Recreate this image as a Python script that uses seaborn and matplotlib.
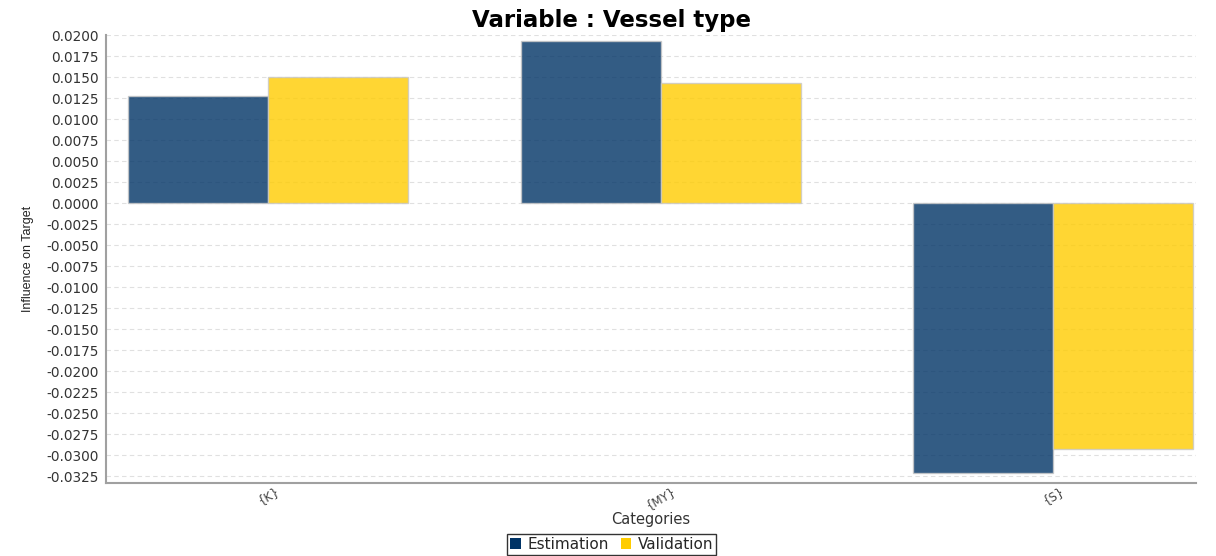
import pandas as pd
import matplotlib
matplotlib.use("Agg")
import matplotlib.pyplot as plt
import matplotlib.patches as mpatches
import seaborn as sns

sns.set_style("white")
plt.rcParams['font.family'] = ['DejaVu Sans']

categories = ['{K}', '{MY}', '{S}']
estimation = [0.0128, 0.0193, -0.0321]
validation = [0.0150, 0.0143, -0.0293]
series = ['Estimation', 'Validation']
colors = {'Estimation': '#003366', 'Validation': '#ffcc00'}
yticks = [0.02 - 0.0025 * i for i in range(22)]

df = pd.DataFrame({
    'Category': categories * 2,
    'Series': ['Estimation'] * 3 + ['Validation'] * 3,
    'Value': estimation + validation,
})

fig = plt.figure(figsize=(12.16, 5.56), dpi=100)
ax = fig.add_axes([0.0872, 0.1313, 0.8964, 0.8057])

sns.barplot(data=df, x='Category', y='Value', hue='Series', order=categories,
            hue_order=series, palette=colors, saturation=1, width=0.714, alpha=0.8,
            edgecolor='#c8c8c8', linewidth=1, legend=False, ax=ax)

ax.set_xlim(-0.413, 2.364)
ax.set_ylim(-0.0333, 0.02)
ax.set_yticks(yticks)
ax.set_yticklabels(['{:.4f}'.format(0.0 if abs(v) < 1e-9 else v) for v in yticks])
ax.yaxis.grid(True, linestyle=(0, (4, 3)), color='#e0e0e0', linewidth=0.8)
ax.set_axisbelow(True)
ax.tick_params(axis='y', labelsize=9.8, length=3, color='#999999', colors='#333333', pad=2)
ax.tick_params(axis='x', labelsize=8.5, length=0, colors='#444444', pad=1)
for lbl in ax.get_xticklabels():
    lbl.set_rotation(30)
    lbl.set_ha('center')

for s in ['top', 'right']:
    ax.spines[s].set_visible(False)
for s in ['left', 'bottom']:
    ax.spines[s].set_color('#a0a0a0')
    ax.spines[s].set_linewidth(1.5)

ax.set_title('Variable : Vessel type', fontsize=16.5, fontweight='bold', x=0.464, pad=6, color='black')
ax.set_ylabel('Influence on Target', fontsize=9, labelpad=9, color='#222222',
              family='Liberation Sans')
ax.set_xlabel('Categories', fontsize=10.5, labelpad=0, color='#333333')

handles = [mpatches.Patch(facecolor=colors[s], edgecolor='none', label=s) for s in series]
leg = fig.legend(handles=handles, loc='lower center', bbox_to_anchor=(0.503, -0.004), ncol=2,
                 frameon=True, fancybox=False, edgecolor='black', fontsize=11,
                 handlelength=0.7, handleheight=0.7, handletextpad=0.4, columnspacing=0.8,
                 borderpad=0.2, borderaxespad=0.2)
leg.get_frame().set_linewidth(1)

fig.savefig('out.png', dpi=100)
